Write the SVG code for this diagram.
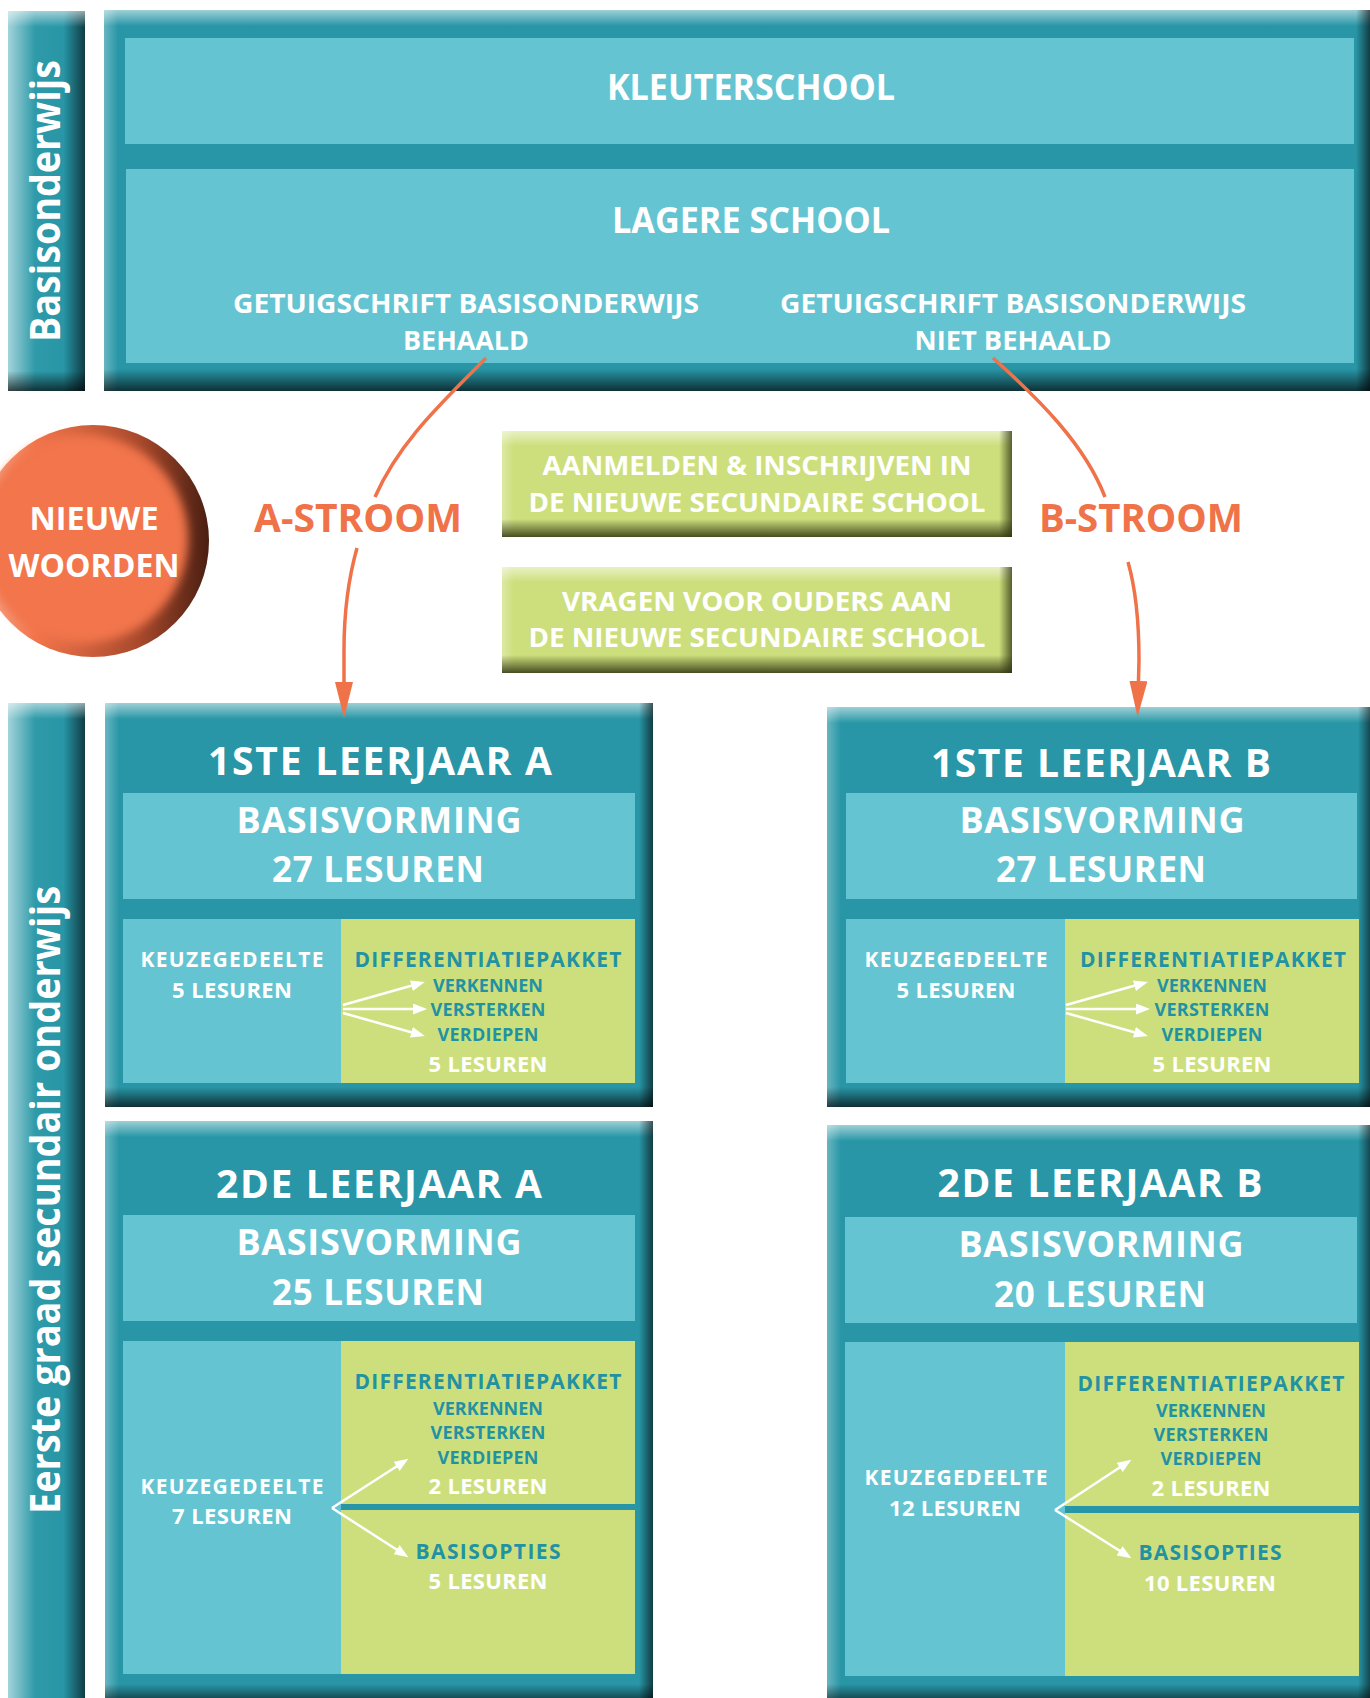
<svg xmlns="http://www.w3.org/2000/svg" width="1370" height="1698" viewBox="0 0 1370 1698">
<defs>
<style>
.frame{fill:#2896a6}
.lt{fill:#65c4d1}
.gr{fill:#cddf7c}
.os{font-family:"Open Sans","Liberation Sans",sans-serif;font-weight:700;text-anchor:middle}
.cal{font-family:"Open Sans","Liberation Sans",sans-serif;font-weight:700;text-anchor:middle}
.w{fill:#ffffff}
.tl{fill:#2292a3}
.or{fill:#f07248}
.bt{fill:url(#gTop)}
.bb{fill:url(#gBot)}
.bl{fill:url(#gL)}
.br{fill:url(#gR)}
.gbb{fill:url(#gBotG)}
.gbr{fill:url(#gRG)}
.oarrow{fill:none;stroke:#f07248;stroke-width:3.5}
.warrow{fill:none;stroke:#ffffff;stroke-width:2.5}
</style>
<linearGradient id="gTop" x1="0" y1="0" x2="0" y2="1"><stop offset="0" stop-color="#fff" stop-opacity=".55"/><stop offset="1" stop-color="#fff" stop-opacity="0"/></linearGradient>
<linearGradient id="gBot" x1="0" y1="0" x2="0" y2="1"><stop offset="0" stop-color="#000" stop-opacity="0"/><stop offset="1" stop-color="#000" stop-opacity=".68"/></linearGradient>
<linearGradient id="gL" x1="0" y1="0" x2="1" y2="0"><stop offset="0" stop-color="#fff" stop-opacity=".3"/><stop offset="1" stop-color="#fff" stop-opacity="0"/></linearGradient>
<linearGradient id="gR" x1="0" y1="0" x2="1" y2="0"><stop offset="0" stop-color="#000" stop-opacity="0"/><stop offset="1" stop-color="#000" stop-opacity=".6"/></linearGradient>
<linearGradient id="gBotG" x1="0" y1="0" x2="0" y2="1"><stop offset="0" stop-color="#2e3210" stop-opacity="0"/><stop offset="1" stop-color="#2e3210" stop-opacity=".85"/></linearGradient>
<linearGradient id="gRG" x1="0" y1="0" x2="1" y2="0"><stop offset="0" stop-color="#2e3210" stop-opacity="0"/><stop offset="1" stop-color="#2e3210" stop-opacity=".75"/></linearGradient>
<linearGradient id="gBar" x1="0" y1="0" x2="1" y2="0"><stop offset="0" stop-color="#a3d3da"/><stop offset=".35" stop-color="#2f9aa9"/><stop offset=".72" stop-color="#2896a6"/><stop offset="1" stop-color="#0f3c44"/></linearGradient>
<linearGradient id="gOrb" x1="0" y1="0" x2="1" y2="0"><stop offset="0" stop-color="#f6b29a"/><stop offset=".25" stop-color="#f2754b"/><stop offset=".7" stop-color="#a8492c"/><stop offset="1" stop-color="#4a1f12"/></linearGradient>
<filter id="blur" x="-20%" y="-20%" width="140%" height="140%"><feGaussianBlur stdDeviation="5"/></filter>
<marker id="ao" viewBox="0 0 36 18" refX="18" refY="9" markerWidth="36" markerHeight="18" markerUnits="userSpaceOnUse" orient="auto"><path d="M0,0 L36,9 L0,18 z" fill="#f07248"/></marker>
<marker id="aw" viewBox="0 0 14 11" refX="10" refY="5.5" markerWidth="14" markerHeight="11" markerUnits="userSpaceOnUse" orient="auto"><path d="M0,0 L14,5.5 L0,11 z" fill="#ffffff"/></marker>
</defs>
<rect width="1370" height="1698" fill="#ffffff"/>

<g id="bar-basisonderwijs">
<rect x="8" y="11" width="77" height="380" fill="url(#gBar)"/>
<rect class="bt" x="8" y="11" width="77" height="16"/>
<rect class="bb" x="8" y="371" width="77" height="20"/>
<text class="cal w" font-size="42" transform="translate(60,201) rotate(-90)" textLength="282" lengthAdjust="spacingAndGlyphs">Basisonderwijs</text>
</g>

<g id="bar-eerste-graad">
<rect x="8" y="703" width="77" height="1000" fill="url(#gBar)"/>
<rect class="bt" x="8" y="703" width="77" height="16"/>
<text class="cal w" font-size="42" transform="translate(60,1200) rotate(-90)" textLength="628" lengthAdjust="spacingAndGlyphs">Eerste graad secundair onderwijs</text>
</g>

<g id="basisonderwijs">
<rect class="frame" x="104" y="10" width="1266" height="381"/>
<rect class="bt" x="104" y="10" width="1266" height="16"/>
<rect class="bl" x="104" y="10" width="14" height="381"/>
<rect class="bb" x="104" y="369" width="1266" height="22"/>
<rect class="br" x="1356" y="10" width="14" height="381"/>
<g id="kleuterschool">
<rect class="lt" x="125" y="38" width="1229" height="106"/>
<text class="cal w" x="751" y="100" font-size="35" textLength="288" lengthAdjust="spacingAndGlyphs">KLEUTERSCHOOL</text>
</g>
<g id="lagere-school">
<rect class="lt" x="126" y="169" width="1228" height="194"/>
<text class="cal w" x="751" y="233" font-size="36" textLength="278" lengthAdjust="spacingAndGlyphs">LAGERE SCHOOL</text>
<text class="cal w" x="466" y="313" font-size="26" textLength="466" lengthAdjust="spacingAndGlyphs">GETUIGSCHRIFT BASISONDERWIJS</text>
<text class="cal w" x="466" y="350" font-size="26" textLength="126" lengthAdjust="spacingAndGlyphs">BEHAALD</text>
<text class="cal w" x="1013" y="313" font-size="26" textLength="466" lengthAdjust="spacingAndGlyphs">GETUIGSCHRIFT BASISONDERWIJS</text>
<text class="cal w" x="1013" y="350" font-size="26" textLength="197" lengthAdjust="spacingAndGlyphs">NIET BEHAALD</text>
</g>
</g>

<g id="nieuwe-woorden">
<circle cx="93" cy="541" r="116" fill="url(#gOrb)"/>
<circle cx="84" cy="539" r="104" fill="#f2754b" filter="url(#blur)"/>
<text class="cal w" x="94" y="530" font-size="32" textLength="129" lengthAdjust="spacingAndGlyphs">NIEUWE</text>
<text class="cal w" x="94" y="577" font-size="32" textLength="171" lengthAdjust="spacingAndGlyphs">WOORDEN</text>
</g>

<g id="a-stroom-label">
<text class="cal or" x="358" y="532" font-size="40" textLength="208" lengthAdjust="spacingAndGlyphs">A-STROOM</text>
</g>
<g id="b-stroom-label">
<text class="cal or" x="1141" y="532" font-size="40" textLength="204" lengthAdjust="spacingAndGlyphs">B-STROOM</text>
</g>

<g id="aanmelden">
<rect class="gr" x="502" y="431" width="510" height="106"/>
<rect class="bt" x="502" y="431" width="510" height="15"/>
<rect class="bl" x="502" y="431" width="12" height="106"/>
<rect class="gbb" x="502" y="519" width="510" height="18"/>
<rect class="gbr" x="999" y="431" width="13" height="106"/>
<text class="cal w" x="757" y="475" font-size="26" textLength="429" lengthAdjust="spacingAndGlyphs">AANMELDEN &amp; INSCHRIJVEN IN</text>
<text class="cal w" x="757" y="512" font-size="26" textLength="457" lengthAdjust="spacingAndGlyphs">DE NIEUWE SECUNDAIRE SCHOOL</text>
</g>

<g id="vragen">
<rect class="gr" x="502" y="567" width="510" height="106"/>
<rect class="bt" x="502" y="567" width="510" height="15"/>
<rect class="bl" x="502" y="567" width="12" height="106"/>
<rect class="gbb" x="502" y="655" width="510" height="18"/>
<rect class="gbr" x="999" y="567" width="13" height="106"/>
<text class="cal w" x="757" y="611" font-size="26" textLength="390" lengthAdjust="spacingAndGlyphs">VRAGEN VOOR OUDERS AAN</text>
<text class="cal w" x="757" y="647" font-size="26" textLength="457" lengthAdjust="spacingAndGlyphs">DE NIEUWE SECUNDAIRE SCHOOL</text>
</g>

<g id="leerjaar1a">
<rect class="frame" x="105" y="703" width="548" height="404"/>
<rect class="bt" x="105" y="703" width="548" height="16"/>
<rect class="bl" x="105" y="703" width="14" height="404"/>
<rect class="bb" x="105" y="1087" width="548" height="20"/>
<rect class="br" x="639" y="703" width="14" height="404"/>
<rect class="lt" x="123" y="793" width="512" height="106"/>
<rect class="lt" x="123" y="919" width="218" height="164"/>
<rect class="gr" x="341" y="919" width="294" height="164"/>
<text class="os w" x="380" y="775" font-size="39" textLength="344" lengthAdjust="spacing">1STE LEERJAAR A</text>
<text class="os w" x="379" y="833" font-size="36" textLength="285" lengthAdjust="spacing">BASISVORMING</text>
<text class="os w" x="378" y="882" font-size="35" textLength="212" lengthAdjust="spacing">27 LESUREN</text>
<text class="os w" x="232" y="967" font-size="21" textLength="183" lengthAdjust="spacing">KEUZEGEDEELTE</text>
<text class="os w" x="232" y="998" font-size="22" textLength="120" lengthAdjust="spacing">5 LESUREN</text>
<text class="os tl" x="488" y="967" font-size="21" textLength="267" lengthAdjust="spacing">DIFFERENTIATIEPAKKET</text>
<text class="os tl" x="488" y="992" font-size="18" textLength="110" lengthAdjust="spacing">VERKENNEN</text>
<text class="os tl" x="488" y="1016" font-size="18" textLength="115" lengthAdjust="spacing">VERSTERKEN</text>
<text class="os tl" x="488" y="1041" font-size="18" textLength="101" lengthAdjust="spacing">VERDIEPEN</text>
<text class="os w" x="488" y="1072" font-size="22" textLength="119" lengthAdjust="spacing">5 LESUREN</text>
</g>

<g id="leerjaar1b">
<rect class="frame" x="827" y="707" width="545" height="400"/>
<rect class="bt" x="827" y="707" width="545" height="16"/>
<rect class="bl" x="827" y="707" width="14" height="400"/>
<rect class="bb" x="827" y="1087" width="545" height="20"/>
<rect class="br" x="1358" y="707" width="14" height="400"/>
<rect class="lt" x="846" y="793" width="511" height="106"/>
<rect class="lt" x="846" y="919" width="219" height="164"/>
<rect class="gr" x="1065" y="919" width="294" height="164"/>
<text class="os w" x="1101" y="777" font-size="39" textLength="340" lengthAdjust="spacing">1STE LEERJAAR B</text>
<text class="os w" x="1102" y="833" font-size="36" textLength="285" lengthAdjust="spacing">BASISVORMING</text>
<text class="os w" x="1101" y="882" font-size="35" textLength="210" lengthAdjust="spacing">27 LESUREN</text>
<text class="os w" x="956" y="967" font-size="21" textLength="183" lengthAdjust="spacing">KEUZEGEDEELTE</text>
<text class="os w" x="956" y="998" font-size="22" textLength="119" lengthAdjust="spacing">5 LESUREN</text>
<text class="os tl" x="1213" y="967" font-size="21" textLength="266" lengthAdjust="spacing">DIFFERENTIATIEPAKKET</text>
<text class="os tl" x="1212" y="992" font-size="18" textLength="110" lengthAdjust="spacing">VERKENNEN</text>
<text class="os tl" x="1212" y="1016" font-size="18" textLength="115" lengthAdjust="spacing">VERSTERKEN</text>
<text class="os tl" x="1212" y="1041" font-size="18" textLength="101" lengthAdjust="spacing">VERDIEPEN</text>
<text class="os w" x="1212" y="1072" font-size="22" textLength="119" lengthAdjust="spacing">5 LESUREN</text>
</g>

<g id="leerjaar2a">
<rect class="frame" x="105" y="1121" width="548" height="583"/>
<rect class="bt" x="105" y="1121" width="548" height="16"/>
<rect class="bl" x="105" y="1121" width="14" height="583"/>
<rect class="bb" x="105" y="1684" width="548" height="20"/>
<rect class="br" x="639" y="1121" width="14" height="583"/>
<rect class="lt" x="123" y="1215" width="512" height="106"/>
<rect class="lt" x="123" y="1341" width="218" height="333"/>
<rect class="gr" x="341" y="1341" width="294" height="163"/>
<rect class="gr" x="341" y="1510" width="294" height="164"/>
<text class="os w" x="379" y="1198" font-size="39" textLength="326" lengthAdjust="spacing">2DE LEERJAAR A</text>
<text class="os w" x="379" y="1255" font-size="36" textLength="285" lengthAdjust="spacing">BASISVORMING</text>
<text class="os w" x="378" y="1305" font-size="35" textLength="212" lengthAdjust="spacing">25 LESUREN</text>
<text class="os w" x="232" y="1494" font-size="21" textLength="183" lengthAdjust="spacing">KEUZEGEDEELTE</text>
<text class="os w" x="232" y="1524" font-size="22" textLength="120" lengthAdjust="spacing">7 LESUREN</text>
<text class="os tl" x="488" y="1389" font-size="21" textLength="267" lengthAdjust="spacing">DIFFERENTIATIEPAKKET</text>
<text class="os tl" x="488" y="1415" font-size="18" textLength="110" lengthAdjust="spacing">VERKENNEN</text>
<text class="os tl" x="488" y="1439" font-size="18" textLength="115" lengthAdjust="spacing">VERSTERKEN</text>
<text class="os tl" x="488" y="1464" font-size="18" textLength="101" lengthAdjust="spacing">VERDIEPEN</text>
<text class="os w" x="488" y="1494" font-size="22" textLength="119" lengthAdjust="spacing">2 LESUREN</text>
<text class="os tl" x="488" y="1559" font-size="21" textLength="145" lengthAdjust="spacing">BASISOPTIES</text>
<text class="os w" x="488" y="1589" font-size="22" textLength="119" lengthAdjust="spacing">5 LESUREN</text>
</g>

<g id="leerjaar2b">
<rect class="frame" x="827" y="1125" width="545" height="579"/>
<rect class="bt" x="827" y="1125" width="545" height="16"/>
<rect class="bl" x="827" y="1125" width="14" height="579"/>
<rect class="bb" x="827" y="1684" width="545" height="20"/>
<rect class="br" x="1358" y="1125" width="14" height="579"/>
<rect class="lt" x="845" y="1217" width="512" height="106"/>
<rect class="lt" x="845" y="1342" width="220" height="334"/>
<rect class="gr" x="1065" y="1342" width="294" height="164"/>
<rect class="gr" x="1065" y="1513" width="294" height="163"/>
<text class="os w" x="1100" y="1197" font-size="39" textLength="325" lengthAdjust="spacing">2DE LEERJAAR B</text>
<text class="os w" x="1101" y="1257" font-size="36" textLength="285" lengthAdjust="spacing">BASISVORMING</text>
<text class="os w" x="1100" y="1307" font-size="35" textLength="212" lengthAdjust="spacing">20 LESUREN</text>
<text class="os w" x="956" y="1485" font-size="21" textLength="183" lengthAdjust="spacing">KEUZEGEDEELTE</text>
<text class="os w" x="955" y="1516" font-size="22" textLength="132" lengthAdjust="spacing">12 LESUREN</text>
<text class="os tl" x="1211" y="1391" font-size="21" textLength="267" lengthAdjust="spacing">DIFFERENTIATIEPAKKET</text>
<text class="os tl" x="1211" y="1417" font-size="18" textLength="110" lengthAdjust="spacing">VERKENNEN</text>
<text class="os tl" x="1211" y="1441" font-size="18" textLength="115" lengthAdjust="spacing">VERSTERKEN</text>
<text class="os tl" x="1211" y="1465" font-size="18" textLength="101" lengthAdjust="spacing">VERDIEPEN</text>
<text class="os w" x="1211" y="1496" font-size="22" textLength="119" lengthAdjust="spacing">2 LESUREN</text>
<text class="os tl" x="1210" y="1560" font-size="21" textLength="143" lengthAdjust="spacing">BASISOPTIES</text>
<text class="os w" x="1210" y="1591" font-size="22" textLength="132" lengthAdjust="spacing">10 LESUREN</text>
</g>

<g id="connectors">
<path class="oarrow" d="M486,358 C445,400 400,440 375,497"/>
<path class="oarrow" d="M357,548 C348,580 344,610 344,650 L344,700" marker-end="url(#ao)"/>
<path class="oarrow" d="M993,358 C1040,400 1085,445 1105,497"/>
<path class="oarrow" d="M1128,562 C1136,590 1139,620 1139,660 L1138,699" marker-end="url(#ao)"/>
<path class="warrow" d="M343,1005 L421,983" marker-end="url(#aw)"/>
<path class="warrow" d="M343,1009 L423,1009" marker-end="url(#aw)"/>
<path class="warrow" d="M343,1013 L421,1035" marker-end="url(#aw)"/>
<path class="warrow" d="M1066,1005 L1144,983" marker-end="url(#aw)"/>
<path class="warrow" d="M1066,1009 L1146,1009" marker-end="url(#aw)"/>
<path class="warrow" d="M1066,1013 L1144,1035" marker-end="url(#aw)"/>
<path class="warrow" d="M332,1508 L405,1461" marker-end="url(#aw)"/>
<path class="warrow" d="M332,1508 L405,1555" marker-end="url(#aw)"/>
<path class="warrow" d="M1055,1510 L1128,1462" marker-end="url(#aw)"/>
<path class="warrow" d="M1055,1510 L1128,1556" marker-end="url(#aw)"/>
</g>
</svg>
